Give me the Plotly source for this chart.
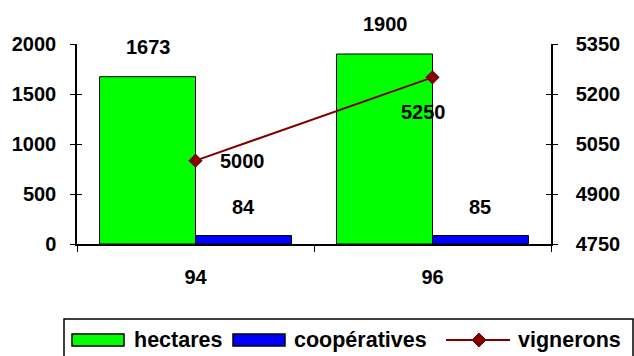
import plotly.graph_objects as go

categories = ["94", "96"]
hectares = [1673, 1900]
cooperatives = [84, 85]
vignerons = [5000, 5250]
left_ticks = [0, 500, 1000, 1500, 2000]
right_ticks = [4750, 4900, 5050, 5200, 5350]

W, H = 634, 356
L, R, T, B = 77, 551, 44, 244
FONT = "Liberation Sans, Arial, sans-serif"


def px(x):
    return (x - L) / (R - L)


def py(y):
    return (B - y) / (B - T)


fig = go.Figure()
fig.add_trace(go.Bar(x=categories, y=hectares, name="hectares",
                     marker=dict(color="#00FF00", line=dict(color="black", width=1))))
fig.add_trace(go.Bar(x=categories, y=cooperatives, name="coopératives",
                     marker=dict(color="#0000FF", line=dict(color="black", width=1))))
fig.add_trace(go.Scatter(x=categories, y=vignerons, name="vignerons", yaxis="y2",
                         mode="lines+markers",
                         line=dict(color="#800000", width=2),
                         marker=dict(symbol="diamond", size=11, color="#800000")))

annots = []
lab_font = dict(family=FONT, size=20, color="black", weight="bold")
for i, v in enumerate(hectares):
    annots.append(dict(x=i, y=v, xref="x", yref="y", text=str(v), showarrow=False,
                       xshift=-47.5, yshift=30, font=lab_font))
for i, v in enumerate(cooperatives):
    annots.append(dict(x=i, y=v, xref="x", yref="y", text=str(v), showarrow=False,
                       xshift=47.5, yshift=29, font=lab_font))
line_shifts = [(47, 0), (-9, -35)]
for i, (v, (dx, dy)) in enumerate(zip(vignerons, line_shifts)):
    annots.append(dict(x=i, y=v, xref="x", yref="y2", text=str(v), showarrow=False,
                       xshift=dx, yshift=dy, font=lab_font))

# custom legend
leg_font = dict(family=FONT, size=21.5, color="black", weight="bold")
shapes = [
    dict(type="rect", xref="paper", yref="paper", x0=px(64), x1=px(633), y0=py(319), y1=py(358),
         line=dict(color="black", width=1.5), fillcolor="white", layer="below"),
    dict(type="rect", xref="paper", yref="paper", x0=px(72), x1=px(124), y0=py(334), y1=py(346),
         line=dict(color="black", width=1.5), fillcolor="#00FF00"),
    dict(type="rect", xref="paper", yref="paper", x0=px(233), x1=px(285), y0=py(334), y1=py(346),
         line=dict(color="black", width=1.5), fillcolor="#0000FF"),
    dict(type="line", xref="paper", yref="paper", x0=px(446), x1=px(510), y0=py(340), y1=py(340),
         line=dict(color="#800000", width=2)),
    dict(type="path", xref="paper", yref="paper",
         path=f"M {px(472)} {py(340)} L {px(479)} {py(333)} L {px(486)} {py(340)} L {px(479)} {py(347)} Z",
         line=dict(color="#800000", width=1), fillcolor="#800000"),
]
for name, x0 in [("hectares", 132), ("coopératives", 292), ("vignerons", 516)]:
    annots.append(dict(x=px(x0), y=py(340), xref="paper", yref="paper", text=name,
                       showarrow=False, xanchor="left", yanchor="middle", font=leg_font))

tick_font = dict(family=FONT, size=20, color="black", weight="bold")
fig.update_layout(
    width=W, height=H,
    margin=dict(l=L, r=W - R, t=T, b=H - B),
    paper_bgcolor="white", plot_bgcolor="white",
    barmode="group", bargap=0.19, bargroupgap=0,
    showlegend=False,
    xaxis=dict(type="category", range=[-0.5, 1.5], showgrid=False, showline=True,
               linecolor="black", linewidth=1.5, ticks="outside", tickson="boundaries",
               ticklen=6, tickcolor="black", tickfont=tick_font, ticklabelstandoff=14),
    yaxis=dict(range=[0, 2000], tickvals=left_ticks, showgrid=False, zeroline=False,
               showline=True, linecolor="black", linewidth=1.5, ticks="outside",
               ticklen=5, tickcolor="black", tickfont=tick_font, ticklabelstandoff=10),
    yaxis2=dict(range=[4750, 5350], tickvals=right_ticks, overlaying="y", side="right",
                showgrid=False, zeroline=False, showline=True, linecolor="black", linewidth=1.5,
                ticks="outside", ticklen=5, tickcolor="black", tickfont=tick_font,
                ticklabelstandoff=14),
    yaxis3=dict(range=[0, 2000], tickvals=left_ticks, overlaying="y", side="left",
                showgrid=False, zeroline=False, showline=False, ticks="inside", ticklen=5,
                tickcolor="black", showticklabels=False),
    yaxis4=dict(range=[4750, 5350], tickvals=right_ticks, overlaying="y", side="right",
                showgrid=False, zeroline=False, showline=False, ticks="inside", ticklen=5,
                tickcolor="black", showticklabels=False),
    annotations=annots,
    shapes=shapes,
)
# invisible traces to activate the inside-tick axes
fig.add_trace(go.Scatter(x=categories, y=hectares, yaxis="y3", mode="none",
                         showlegend=False, hoverinfo="skip"))
fig.add_trace(go.Scatter(x=categories, y=vignerons, yaxis="y4", mode="none",
                         showlegend=False, hoverinfo="skip"))

fig.write_html("out.html", config={"displayModeBar": False},
               post_script="document.body.style.margin='0';")
